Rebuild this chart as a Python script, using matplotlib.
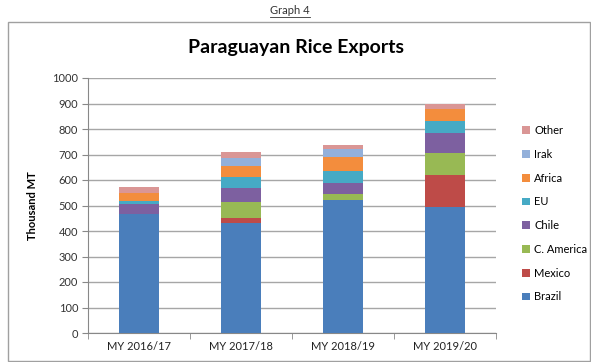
import matplotlib.pyplot as plt
import numpy as np
from matplotlib.patches import Rectangle

plt.rcParams['font.family'] = ['Lato', 'DejaVu Sans']

years = ['MY 2016/17', 'MY 2017/18', 'MY 2018/19', 'MY 2019/20']
brazil = [465, 430, 522, 495]
mexico = [3, 20, 0, 124]
c_america = [0, 64, 22, 88]
chile = [37, 53, 46, 78]
eu = [13, 45, 46, 46]
africa = [32, 43, 54, 46]
irak = [0, 33, 33, 0]
other = [23, 22, 15, 23]

series = [('Brazil', brazil, '#4A7EBB'),
          ('Mexico', mexico, '#BE4B48'),
          ('C. America', c_america, '#98B954'),
          ('Chile', chile, '#7D60A0'),
          ('EU', eu, '#46AAC5'),
          ('Africa', africa, '#F38D3D'),
          ('Irak', irak, '#93B0DA'),
          ('Other', other, '#DA9695')]

fig = plt.figure(figsize=(5.91, 3.62), dpi=100)
ax = fig.add_axes([88/591, 1-333/362, 408/591, 255/362])

x = np.arange(len(years))
bottom = np.zeros(len(years))
handles = []
for name, vals, col in series:
    b = ax.bar(x, vals, 0.4, bottom=bottom, color=col, label=name, zorder=3)
    bottom += np.array(vals)
    handles.append(b)

ax.set_xlim(-0.5, 3.5)
ax.set_ylim(0, 1000)
ax.set_yticks(range(0, 1001, 100))
ax.tick_params(axis='y', labelsize=8, colors='#333333', length=4, direction='out', pad=3)
ax.tick_params(axis='y', color='#888888')
ax.set_xticks(x)
ax.set_xticklabels(years, fontsize=8, color='#222222')
ax.set_xticks(np.arange(-0.5, 4, 1), minor=True)
ax.tick_params(axis='x', which='major', length=0, pad=6)
ax.tick_params(axis='x', which='minor', length=4, color='#888888')
ax.grid(axis='y', color='#a6a6a6', linewidth=1, zorder=0)
for s in ['top', 'right']:
    ax.spines[s].set_visible(False)
for s in ['left', 'bottom']:
    ax.spines[s].set_color('#888888')
ax.set_ylabel('Thousand MT', fontsize=8, fontweight='bold', labelpad=10)

leg = fig.legend(handles[::-1], [s[0] for s in series][::-1], loc='upper left',
                 bbox_to_anchor=(512/591, 1-115/362), frameon=False, fontsize=8,
                 handlelength=0.7, handleheight=0.7, handletextpad=0.4,
                 labelspacing=1.15)

fig.text(0.5, 1-47/362, 'Paraguayan Rice Exports', ha='center', va='center',
         fontsize=14, fontweight='bold')
t = fig.text(290/591, 1-10/362, 'Graph 4', ha='center', va='center', fontsize=8,
             color='#333333')
fig.add_artist(plt.Line2D([270/591, 310/591], [1-17/362, 1-17/362],
                          color='#333333', linewidth=0.6))
fig.add_artist(Rectangle((8/591, 0.002), 582/591, 1-22/362 - 0.002,
                         fill=False, edgecolor='#a0a0a0', linewidth=1,
                         transform=fig.transFigure))

fig.savefig('out.png', dpi=100)
